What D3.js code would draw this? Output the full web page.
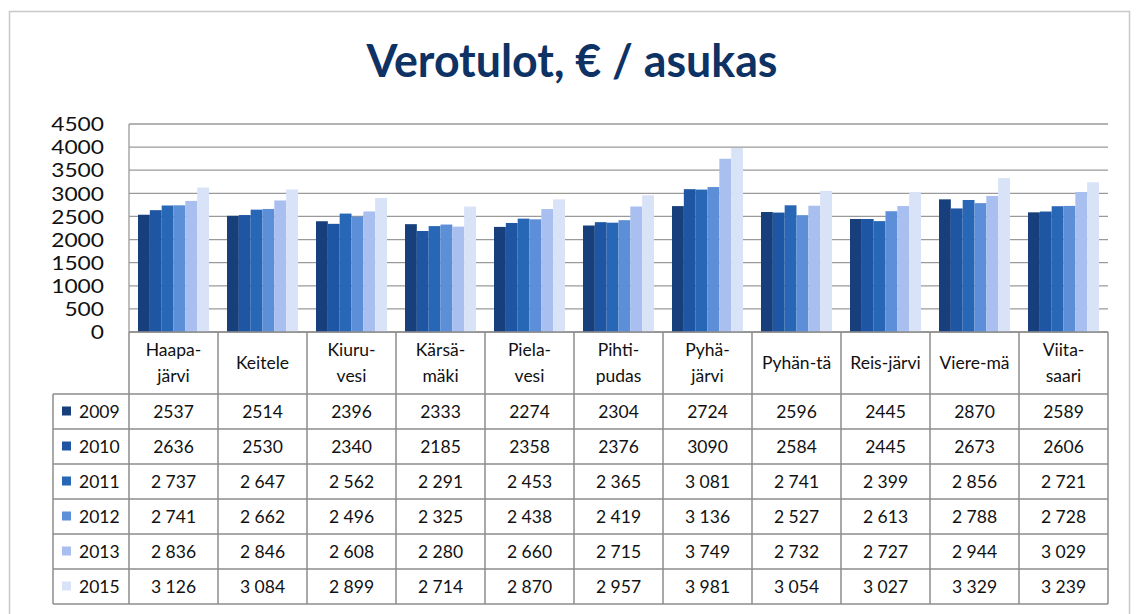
<!DOCTYPE html>
<html><head><meta charset="utf-8">
<script src="https://cdn.jsdelivr.net/npm/d3@7"></script>
<style>body{margin:0;background:#fff}svg{display:block}text{font-family:Lato,"Noto Sans",sans-serif}</style>
</head><body>
<svg id="c" width="1136" height="614"></svg>
<script>
const title = "Verotulot, € / asukas";
const categories = ["Haapajärvi","Keitele","Kiuruvesi","Kärsämäki","Pielavesi","Pihtipudas","Pyhäjärvi","Pyhäntä","Reisjärvi","Vieremä","Viitasaari"];
const categoryLabels = [["Haapa-","järvi"],["Keitele"],["Kiuru-","vesi"],["Kärsä-","mäki"],["Piela-","vesi"],["Pihti-","pudas"],["Pyhä-","järvi"],["Pyhän-tä"],["Reis-järvi"],["Viere-mä"],["Viita-","saari"]];
const years = ["2009","2010","2011","2012","2013","2015"];
const v2009 = [2537,2514,2396,2333,2274,2304,2724,2596,2445,2870,2589];
const v2010 = [2636,2530,2340,2185,2358,2376,3090,2584,2445,2673,2606];
const v2011 = [2737,2647,2562,2291,2453,2365,3081,2741,2399,2856,2721];
const v2012 = [2741,2662,2496,2325,2438,2419,3136,2527,2613,2788,2728];
const v2013 = [2836,2846,2608,2280,2660,2715,3749,2732,2727,2944,3029];
const v2015 = [3126,3084,2899,2714,2870,2957,3981,3054,3027,3329,3239];
const series = [v2009,v2010,v2011,v2012,v2013,v2015];
const yTicks = [0,500,1000,1500,2000,2500,3000,3500,4000,4500];
const colors = ["#173f7c","#1e56a3","#2866b6","#5c8fd7","#a9bff0","#d8e3f8"];
const fmtPlain = d3.format("d");
const fmtSpaced = v => { const s = String(v); return s.length>3 ? s.slice(0,s.length-3)+" "+s.slice(-3) : s; };
const rowFormats = [fmtPlain,fmtPlain,fmtSpaced,fmtSpaced,fmtSpaced,fmtSpaced];

const svg = d3.select("#c");
svg.append("rect").attr("x",9.5).attr("y",11.5).attr("width",1120).attr("height",640)
  .attr("fill","none").attr("stroke","#c8c8c8").attr("stroke-width",1.5);

svg.append("text").attr("x",572).attr("y",77).attr("text-anchor","middle")
  .attr("font-size",45).attr("font-weight",700).attr("fill","#0d3263")
  .attr("textLength",411).attr("lengthAdjust","spacingAndGlyphs").text(title);

const pL=129, pR=1108, pT=124, pB=332;
const x = d3.scaleBand().domain(categories).range([pL,pR]).padding(0);
const xi = d3.scaleBand().domain(years).range([9,80]).padding(0);
const y = d3.scaleLinear().domain([0,4500]).range([pB,pT]);

svg.append("g").selectAll("line").data(yTicks).join("line")
  .attr("x1",pL).attr("x2",pR).attr("y1",d=>y(d)).attr("y2",d=>y(d))
  .attr("stroke","#9a9a9a").attr("stroke-width",1.3);
svg.append("line").attr("x1",pL).attr("x2",pL).attr("y1",pT).attr("y2",pB).attr("stroke","#9a9a9a").attr("stroke-width",1.3);

const yAxis = d3.axisLeft(y).tickValues(yTicks).tickSize(0).tickPadding(0).tickFormat(d3.format("d"));
const ga = svg.append("g").attr("transform",`translate(104,0)`).call(yAxis);
ga.select(".domain").remove();
ga.selectAll("text").attr("font-size",18.5).attr("fill","#111").attr("font-family","Lato")
  .attr("dy","0.36em")
  .attr("textLength",d=>String(d).length*13.2).attr("lengthAdjust","spacingAndGlyphs");

const bars = svg.append("g");
series.forEach((vals,si)=>{
  bars.append("g").selectAll("rect").data(vals).join("rect")
    .attr("x",(d,i)=>x(categories[i])+xi(years[si]))
    .attr("width",xi.bandwidth())
    .attr("y",d=>y(d)).attr("height",d=>pB-y(d))
    .attr("fill",colors[si]);
});

const rowTop=394, rowH=35, legL=53;
const tbl = svg.append("g");
const lineC="#8c8c8c";
const colEdges = categories.map(c=>x(c)).concat([pR]);
tbl.selectAll("line.v").data(colEdges).join("line").attr("class","v")
  .attr("x1",d=>d).attr("x2",d=>d).attr("y1",pB).attr("y2",rowTop+rowH*6)
  .attr("stroke",lineC).attr("stroke-width",1.5);
tbl.append("line").attr("x1",legL).attr("x2",legL).attr("y1",rowTop).attr("y2",rowTop+rowH*6).attr("stroke",lineC).attr("stroke-width",1.5);
const hLines = d3.range(7).map(i=>rowTop+i*rowH);
tbl.selectAll("line.h").data(hLines).join("line").attr("class","h")
  .attr("x1",legL).attr("x2",pR).attr("y1",d=>d).attr("y2",d=>d)
  .attr("stroke",lineC).attr("stroke-width",1.5);
tbl.append("line").attr("x1",pL).attr("x2",pR).attr("y1",pB).attr("y2",pB).attr("stroke",lineC).attr("stroke-width",1.5);

categories.forEach((c,i)=>{
  const lines = categoryLabels[i];
  const cx = x(c)+x.bandwidth()/2;
  const t = tbl.append("text").attr("text-anchor","middle").attr("font-size",17.5).attr("fill","#111");
  if(lines.length===1){
    t.append("tspan").attr("x",cx).attr("y",369).text(lines[0]);
  } else {
    t.append("tspan").attr("x",cx).attr("y",356).text(lines[0]);
    t.append("tspan").attr("x",cx).attr("y",382).text(lines[1]);
  }
});

years.forEach((yr,si)=>{
  const cy = rowTop+si*rowH+rowH/2;
  tbl.append("rect").attr("x",62).attr("y",cy-5).attr("width",9).attr("height",9).attr("fill",colors[si]);
  tbl.append("text").attr("x",79).attr("y",cy+6).attr("font-size",17.5).attr("fill","#111").text(yr);
  tbl.append("g").selectAll("text").data(series[si]).join("text")
    .attr("x",(d,i)=>x(categories[i])+x.bandwidth()/2).attr("y",cy+6)
    .attr("text-anchor","middle").attr("font-size",17.5).attr("fill","#111")
    .text(d=>rowFormats[si](d));
});
</script>
</body></html>
